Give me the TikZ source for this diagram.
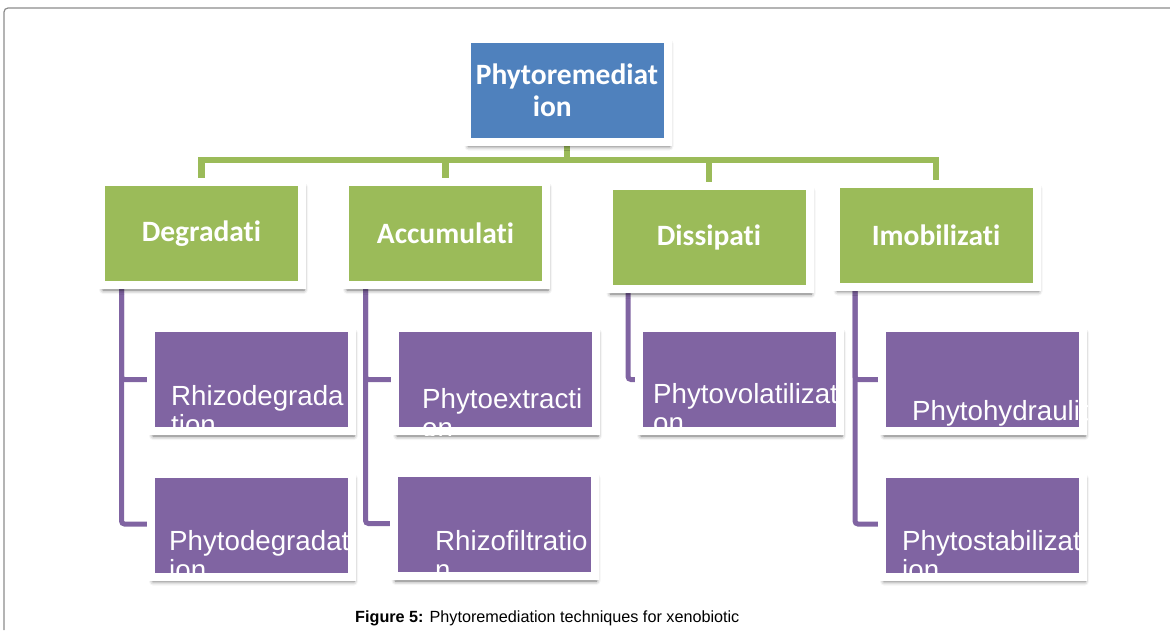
\documentclass[tikz,border=0pt]{standalone}
\usepackage{fontspec}
\setmainfont{Liberation Sans}
\newfontfamily\boxfont[Ligatures=NoCommon]{Carlito}
\usetikzlibrary{shadows.blur}
\definecolor{rahmengrau}{HTML}{8C8C8C}
\definecolor{kopfblau}{HTML}{4F81BD}
\definecolor{gruen}{HTML}{9BBB59}
\definecolor{lila}{HTML}{8064A2}
\newcommand{\kopfschrift}{\boxfont\bfseries\fontsize{29.5}{32}\selectfont}
\newcommand{\blattschrift}{\fontsize{27.7}{29.5}\selectfont}
\newcommand{\unterschrift}{\fontsize{16.2}{18}\selectfont}
\tikzset{kasten/.style={draw=white,line width=8pt,minimum width=201pt,minimum height=103pt,inner sep=0,
    blur shadow={shadow xshift=2pt,shadow yshift=-5pt,shadow blur radius=4pt,shadow opacity=60}},
  kopf/.style={kasten,fill=kopfblau,text=white,font=\kopfschrift,align=left},
  gruppe/.style={kasten,fill=gruen,text=white,font=\kopfschrift},
  technik/.style={kasten,fill=lila},
  blatttext/.style={inner sep=0,text=white,font=\blattschrift,anchor=base west,align=left},
  stamm/.style={gruen,line width=6.5pt},
  ast/.style={lila,line width=5pt,rounded corners=3pt},
  rahmen/.style={rahmengrau,line width=1.2pt,rounded corners=4pt}}

\begin{document}
\begin{tikzpicture}[x=1pt,y=-1pt]
\useasboundingbox (0,0) rectangle (1170,630);
\draw[rahmen] (4,630) -- (4,8) -- (1170,8);
% Verbindungen zuerst, Kaesten decken die Enden ab
\coordinate (knoten) at (567,160);
\coordinate (degrK) at (201.5,233.5);\coordinate (akkuK) at (445.5,233.5);
\coordinate (dissK) at (709,237.5);\coordinate (immoK) at (936,235);
\draw[stamm] (567,120) -- (knoten) -| (degrK);
\draw[stamm] (knoten) -| (akkuK);
\draw[stamm] (knoten) -| (dissK);
\draw[stamm] (knoten) -| (immoK);
\draw[ast] (121.5,280) |- (251.5,379.5);\draw[ast] (121.5,280) |- (251.5,524);
\draw[ast] (365.5,280) |- (495.5,379.5);\draw[ast] (365.5,280) |- (494,523.5);
\draw[ast] (628,280) |- (739.5,379.5);
\draw[ast] (855,280) |- (982.5,379.5);\draw[ast] (855,280) |- (982.5,524);
% Kaesten
\node[kopf] (phyto) at (567,90) {Phytoremediat\\\hspace*{57pt}ion};
\node[gruppe] (degr) at (degrK) {Degradati};
\node[gruppe] (akku) at (akkuK) {Accumulati};
\node[gruppe] (diss) at (dissK) {Dissipati};
\node[gruppe] (immo) at (immoK) {Imobilizati};
\node[technik] (rhizodeg) at (251.5,379.5) {};
\node[technik] (phytodeg) at (251.5,525) {};
\node[technik] (extrakt) at (495.5,379.5) {};
\node[technik] (filtrat) at (494,524.5) {};
\node[technik] (volat) at (739.5,379.5) {};
\node[technik] (hydraul) at (982.5,379.5) {};
\node[technik] (stabil) at (982.5,525) {};
% Texte, auf den Kasten beschnitten (Anker = Grundlinie der letzten Zeile)
\begin{scope}\clip (rhizodeg.north west) rectangle (rhizodeg.south east);
\node[blatttext] (rhizodegT) at (171,434.5) {Rhizodegrada\\tion};\end{scope}
\begin{scope}\clip (phytodeg.north west) rectangle (phytodeg.south east);
\node[blatttext] (phytodegT) at (169,579.5) {Phytodegradat\\ion};\end{scope}
\begin{scope}\clip (extrakt.north west) rectangle (extrakt.south east);
\node[blatttext] (extraktT) at (422,437.5) {Phytoextracti\\on};\end{scope}
\begin{scope}\clip (filtrat.north west) rectangle (filtrat.south east);
\node[blatttext] (filtratT) at (435,579.5) {Rhizofiltratio\\n};\end{scope}
\begin{scope}\clip (volat.north west) rectangle (volat.south east);
\node[blatttext] (volatT) at (653,432.5) {Phytovolatilizati\\on};\end{scope}
\begin{scope}\clip (hydraul.north west) rectangle (hydraul.south east);
\node[blatttext] (hydraulT) at (912,420) {Phytohydraulics};\end{scope}
\begin{scope}\clip (stabil.north west) rectangle (stabil.south east);
\node[blatttext] (stabilT) at (902,579.5) {Phytostabilizat\\ion};\end{scope}
\node[inner sep=0,anchor=base west,font=\unterschrift] (titel) at (355,622) {\textbf{Figure 5:} Phytoremediation techniques for xenobiotic};
\end{tikzpicture}
\end{document}
